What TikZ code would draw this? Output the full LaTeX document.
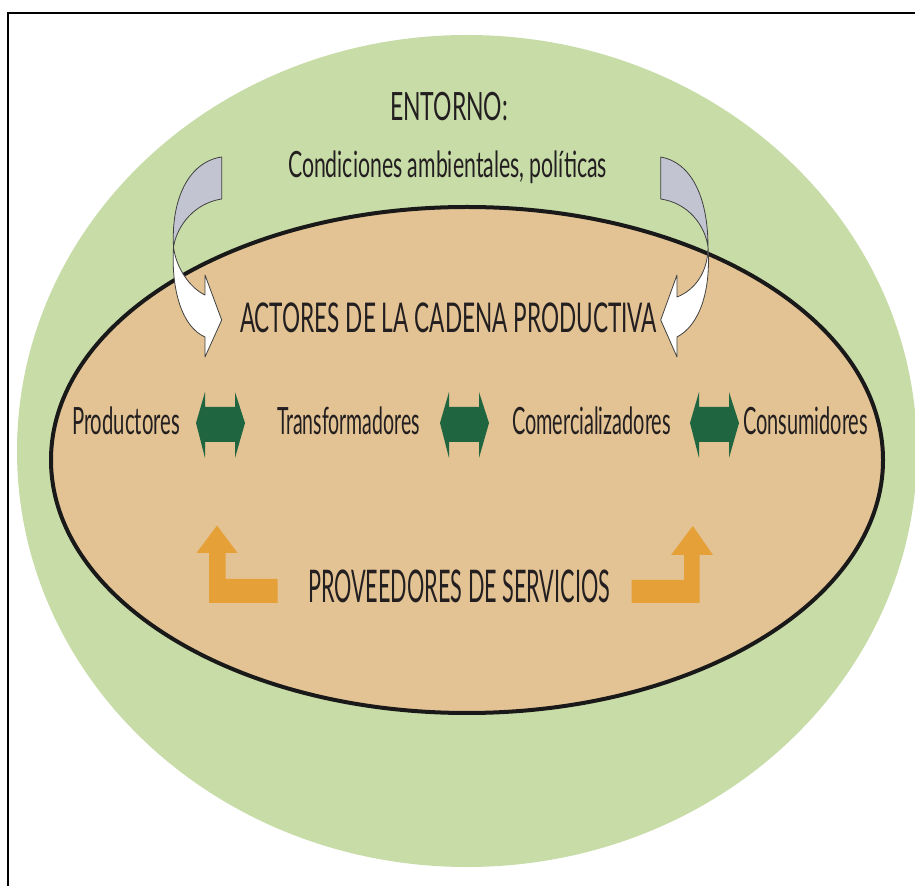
\documentclass[tikz,border=0pt]{standalone}
\usepackage{fontspec}
\setmainfont{Lato}
\usepackage{graphicx}
\definecolor{outerg}{HTML}{C8DCA8}
\definecolor{innert}{HTML}{E3C394}
\definecolor{dgreen}{HTML}{1F6640}
\definecolor{orng}{HTML}{E5A038}
\definecolor{grayarr}{HTML}{C2C5D1}
\definecolor{txt}{HTML}{231F20}
\newcommand\fitw[2]{\resizebox{#1}{\height}{#2}}
\begin{document}
\begin{tikzpicture}[x=0.5pt,y=-0.5pt,
  lbl/.style={inner sep=0pt, anchor=base, text=txt},
  curvearr/.style={draw=black!75, line width=0.4pt, line join=round},
  dblarr/.style={fill=dgreen},
  upbend/.style={fill=orng}]
\useasboundingbox (0,0) rectangle (915,886);
% outer environment
\fill[outerg] (467,451) ellipse [x radius=450, y radius=416];
% frame
\draw[line width=1.1pt] (8,886) -- (8,13) -- (915,13);
% inner ellipse
\draw[fill=innert, draw=black!90, line width=2pt] (467,460) ellipse [x radius=416, y radius=253];
% left curved arrow
\filldraw[curvearr, fill=grayarr] (221.7,157) .. controls (188,162) and (171,200) .. (173.5,247)
   .. controls (177,225) and (195,203) .. (221.7,199) -- cycle;
\filldraw[curvearr, fill=white] (173.5,247) .. controls (176,268) and (190,288) .. (205,295)
   -- (205,275) -- (221.7,320) -- (205,357) -- (205,337)
   .. controls (182,327) and (171,290) .. (173.5,247) -- cycle;
% right curved arrow
\filldraw[curvearr, fill=grayarr] (660.7,157) .. controls (690,162) and (708,195) .. (708,247)
   .. controls (705,225) and (688,203) .. (660.7,199) -- cycle;
\filldraw[curvearr, fill=white] (708,247) .. controls (708,272) and (695,290) .. (677,297)
   -- (677,275) -- (660.7,320) -- (677,357) -- (677,337)
   .. controls (700,325) and (711,290) .. (708,247) -- cycle;
% green double arrows
\foreach \a in {196,440,690}
  \fill[dblarr] (\a,423) -- (\a+9,392) -- (\a+9,407) -- (\a+39,407) -- (\a+39,392) -- (\a+49,423)
     -- (\a+39,458) -- (\a+39,442) -- (\a+9,442) -- (\a+9,458) -- cycle;
% orange bent arrows
\fill[upbend] (217,525.5) -- (237.6,553) -- (225.5,553) -- (225.5,579) -- (277.6,579) -- (277.6,603)
   -- (209,603) -- (209,553) -- (196.5,553) -- cycle;
\fill[upbend] (692.8,526) -- (713,555) -- (699.7,555) -- (699.7,603) -- (631.7,603) -- (631.7,580)
   -- (684,580) -- (684,555) -- (671,555) -- cycle;
% texts
\node[lbl, font=\fontsize{19.5}{20}\selectfont] (entorno) at (449,121) {\fitw{59pt}{ENTORNO:}};
\node[lbl, font=\fontsize{18.1}{20}\selectfont] (cond) at (447.5,178) {\fitw{159.5pt}{Condiciones ambientales, políticas}};
\node[lbl, font=\fontsize{20.5}{22}\selectfont] (actores) at (448.5,333) {\fitw{208.5pt}{ACTORES DE LA CADENA PRODUCTIVA}};
\node[lbl, font=\fontsize{18.8}{20}\selectfont] (prod) at (126,435) {\fitw{54pt}{Productores}};
\node[lbl, font=\fontsize{18.8}{20}\selectfont] (trans) at (348.5,435) {\fitw{71.5pt}{Transformadores}};
\node[lbl, font=\fontsize{18.8}{20}\selectfont] (com) at (591.5,435) {\fitw{79.5pt}{Comercializadores}};
\node[lbl, font=\fontsize{18.8}{20}\selectfont] (cons) at (805.5,435) {\fitw{62.5pt}{Consumidores}};
\node[lbl, font=\fontsize{22.5}{24}\selectfont] (prov) at (459,603) {\fitw{151pt}{PROVEEDORES DE SERVICIOS}};
\end{tikzpicture}
\end{document}
